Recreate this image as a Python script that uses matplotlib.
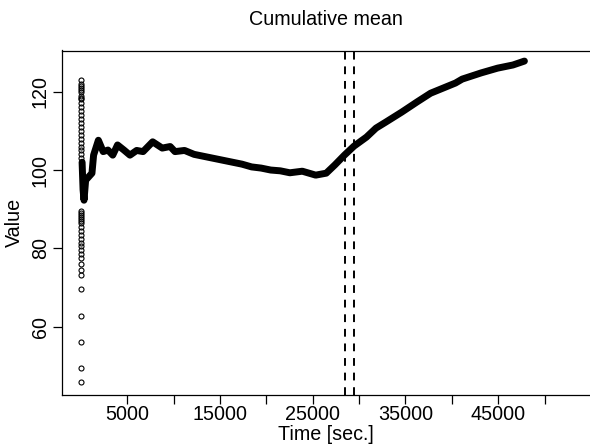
import numpy as np
import matplotlib
matplotlib.use('Agg')
import matplotlib.pyplot as plt

# cumulative mean (dense part), time in seconds
time_s = [144, 248, 351, 526, 867, 1207, 1383, 1899, 2415, 2931, 3447, 3963,
          4654, 5304, 6027, 6718, 7750, 8782, 9639, 10155, 11187, 12219, 13251,
          14283, 15315, 16347, 17379, 18411, 19443, 20475, 21507, 22539, 23880,
          25325, 26460, 27389, 28421, 29453, 30795, 31827, 32859, 34613, 36264,
          37709, 39051, 40392, 41115, 43179, 44933, 46584, 47823]
cum_mean = [102.0, 95.0, 92.3, 97.4, 98.3, 99.2, 103.8, 107.6, 104.7, 105.1,
            103.8, 106.4, 105.1, 103.8, 105.0, 104.7, 107.2, 105.6, 106.0, 104.7,
            105.0, 104.0, 103.5, 103.0, 102.5, 102.0, 101.5, 100.8, 100.5, 100.0,
            99.8, 99.3, 99.7, 98.7, 99.2, 101.3, 103.8, 106.1, 108.4, 110.7, 112.2,
            114.8, 117.4, 119.6, 120.9, 122.2, 123.2, 124.8, 126.0, 126.8, 127.8]

# first samples, where the running mean still jumps around
early_vals = [46, 49.5, 56, 62.7, 69.6, 73.2, 74.5, 76, 77.5, 78.5, 79.5, 80.5,
              81.5, 82.5, 83.5, 84.5, 85.5, 86.5, 87, 87.5, 88, 88.5, 89, 89.5,
              103, 104, 105, 106, 107, 108, 109, 110, 111, 112, 113, 114, 115,
              116, 117, 118, 118.5, 119, 120, 120.5, 121, 121.5, 122, 123]
early_time = [0] * len(early_vals)

# change points
vlines = [28450, 29450]

xticks = list(range(5000, 55001, 5000))
xticklabels = ['5000', '', '15000', '', '25000', '', '35000', '', '45000', '', '']
yticks = [60, 80, 100, 120]

plt.rcParams['font.family'] = ['Liberation Sans', 'DejaVu Sans']
fs = 14.2

fig = plt.figure(figsize=(5.9, 4.47), dpi=100)
ax = fig.add_axes([61.5 / 590, 1 - 395 / 447, (591 - 61.5) / 590, (395 - 50.5) / 447])

ax.plot(time_s, cum_mean, color='black', lw=5, solid_capstyle='round',
        solid_joinstyle='round')
ax.plot(early_time, early_vals, linestyle='none', marker='o', ms=3.6,
        mfc='none', mec='black', mew=0.8)
for v in vlines:
    ax.axvline(v, color='black', lw=1.4, dashes=(4, 3.5))

ax.set_xlim(-2076, 52620)
ax.set_ylim(42.6, 130.5)
ax.set_xticks(xticks)
ax.set_xticklabels(xticklabels)
ax.set_yticks(yticks)
ax.set_yticklabels([str(t) for t in yticks], rotation=90, va='center')
ax.tick_params(labelsize=fs, length=6.5, width=0.9)
ax.tick_params(axis='x', pad=0.5)
ax.tick_params(axis='y', pad=1.8)
ax.spines['right'].set_visible(False)
for s in ['left', 'top', 'bottom']:
    ax.spines[s].set_linewidth(0.9)

fig.text(326 / 590, 1 - 25 / 447, 'Cumulative mean', ha='center', va='baseline',
         fontsize=fs)
fig.text(326 / 590, 1 - 434 / 447, 'Time [sec.]', ha='center', va='center',
         fontsize=fs)
fig.text(14 / 590, 1 - 222 / 447, 'Value', ha='center', va='center',
         rotation=90, fontsize=fs)

fig.savefig('out.png', dpi=100)
